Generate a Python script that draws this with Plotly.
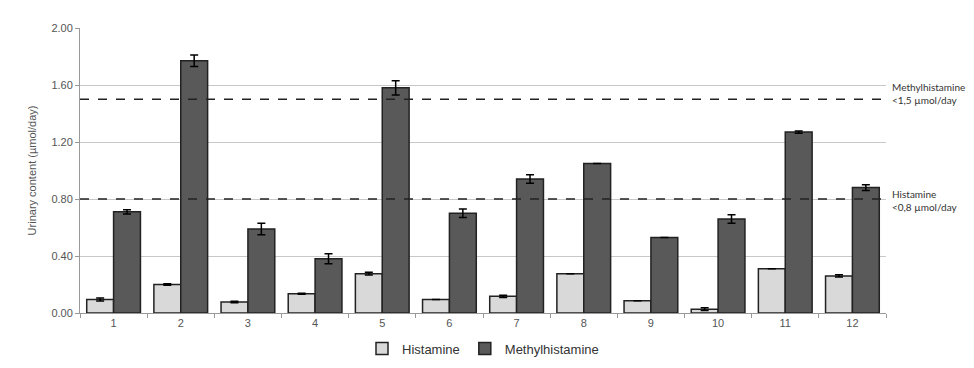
import plotly.graph_objects as go

categories = ["1", "2", "3", "4", "5", "6", "7", "8", "9", "10", "11", "12"]
histamine = [0.095, 0.20, 0.077, 0.135, 0.276, 0.095, 0.117, 0.276, 0.086, 0.027, 0.31, 0.26]
histamine_err = [0.01, 0.005, 0.005, 0.004, 0.01, 0.0, 0.008, 0.0, 0.0, 0.01, 0.0, 0.008]
methyl = [0.71, 1.77, 0.59, 0.38, 1.58, 0.70, 0.94, 1.05, 0.53, 0.66, 1.27, 0.88]
methyl_err = [0.015, 0.04, 0.04, 0.035, 0.05, 0.03, 0.03, 0.0, 0.0, 0.03, 0.008, 0.02]
ref_methyl = 1.5
ref_hist = 0.8
y_ticks = [0, 0.4, 0.8, 1.2, 1.6, 2.0]

fig = go.Figure()
fig.add_trace(go.Bar(
    x=categories, y=histamine, name="Histamine",
    marker=dict(color="#d9d9d9", line=dict(color="#222222", width=1.5)),
    error_y=dict(type="data", array=histamine_err, color="black", thickness=1.5, width=4),
))
fig.add_trace(go.Bar(
    x=categories, y=methyl, name="Methylhistamine",
    marker=dict(color="#595959", line=dict(color="#222222", width=1.5)),
    error_y=dict(type="data", array=methyl_err, color="black", thickness=1.5, width=4),
))

for val in [ref_methyl, ref_hist]:
    fig.add_shape(type="line", xref="paper", x0=0, x1=1, yref="y", y0=val, y1=val,
                  line=dict(color="#222222", width=1.5, dash="dash"))

fig.add_annotation(xref="paper", x=1.005, yref="y", y=ref_methyl + 0.04,
                   text="Methylhistamine<br><1,5 µmol/day", showarrow=False,
                   xanchor="left", yanchor="middle", align="left",
                   font=dict(family="Lato", size=10, color="#333333"))
fig.add_annotation(xref="paper", x=1.005, yref="y", y=ref_hist - 0.01,
                   text="Histamine<br><0,8 µmol/day", showarrow=False,
                   xanchor="left", yanchor="middle", align="left",
                   font=dict(family="Lato", size=10, color="#333333"))

fig.update_layout(
    width=974, height=368,
    margin=dict(l=72, r=96, t=20, b=53),
    plot_bgcolor="white", paper_bgcolor="white",
    barmode="group", bargap=0.2, bargroupgap=0,
    font=dict(family="Liberation Sans", size=11, color="#555555"),
    legend=dict(orientation="h", x=0.5, xanchor="center", y=-0.125, yanchor="middle",
                font=dict(size=13, color="#333333"), itemwidth=30),
    xaxis=dict(showline=True, linecolor="#999999", ticks="outside", tickcolor="#999999",
               ticklen=4, tickson="boundaries", showgrid=False),
    yaxis=dict(range=[0, 2.0], tickvals=y_ticks, tickformat=".2f", showgrid=True,
               gridcolor="#c8c8c8", showline=True, linecolor="#999999", ticks="outside",
               tickcolor="#999999", ticklen=4, zeroline=False,
               title=dict(text="Urinary content (µmol/day)", standoff=12,
                          font=dict(size=11, color="#555555"))),
)

fig.write_html("out.html")
